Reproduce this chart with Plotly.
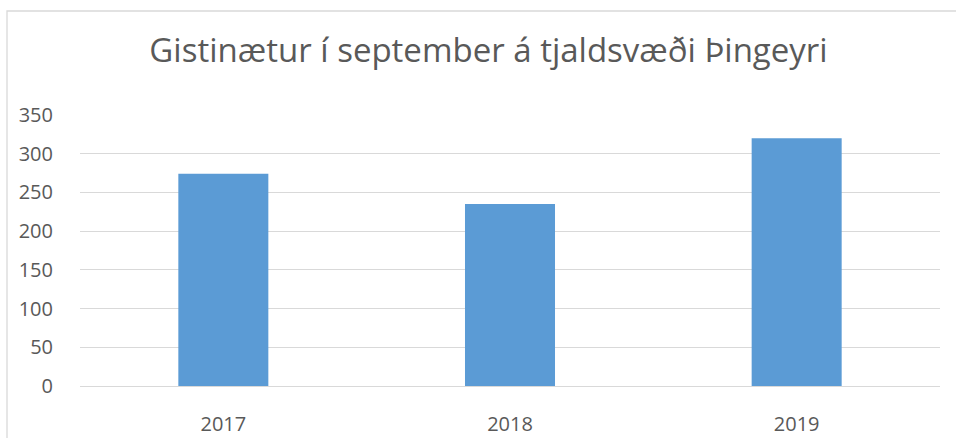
import plotly.graph_objects as go

years = ["2017", "2018", "2019"]
nights = [274, 235, 320]
y_ticks = [0, 50, 100, 150, 200, 250, 300, 350]

title_text = "Gistinætur í september á tjaldsvæði Þingeyri"
font_family = "Open Sans, Liberation Sans, sans-serif"
text_color = "#595959"
grid_color = "#d9d9d9"

fig = go.Figure(
    go.Bar(x=years, y=nights, marker=dict(color="#5b9bd5", line=dict(width=0)), width=0.314)
)

fig.update_layout(
    width=956,
    height=438,
    margin=dict(l=80, r=16, t=115, b=52, autoexpand=False),
    paper_bgcolor="white",
    plot_bgcolor="white",
    showlegend=False,
    title=dict(
        text=title_text,
        x=0.511,
        xanchor="center",
        y=1 - 50 / 438,
        yanchor="middle",
        yref="container",
        font=dict(family=font_family, size=33, color=text_color),
    ),
    font=dict(family=font_family, color=text_color),
    bargap=0.686,
)

fig.update_yaxes(
    range=[0, 350],
    tickvals=y_ticks,
    ticktext=[str(v) for v in y_ticks],
    showgrid=True,
    gridcolor=grid_color,
    gridwidth=1,
    zeroline=False,
    showline=False,
    ticks="outside",
    ticklen=22,
    tickcolor="rgba(0,0,0,0)",
    tickfont=dict(size=20, color=text_color),
    automargin=False,
    fixedrange=True,
)

fig.update_xaxes(
    showgrid=False,
    showline=True,
    linecolor=grid_color,
    linewidth=1,
    ticks="outside",
    ticklen=20,
    tickcolor="rgba(0,0,0,0)",
    tickfont=dict(size=20, color=text_color),
    automargin=False,
    fixedrange=True,
)

# outer chart-area border (extends beyond the visible image at right/bottom)
fig.add_shape(
    type="rect",
    xref="paper",
    yref="paper",
    x0=(7 - 80) / 860,
    x1=1.1,
    y0=-0.3,
    y1=(386 - 11) / 271,
    line=dict(color=grid_color, width=1.3),
    fillcolor="rgba(0,0,0,0)",
    layer="below",
)

fig.write_html("out.html")
